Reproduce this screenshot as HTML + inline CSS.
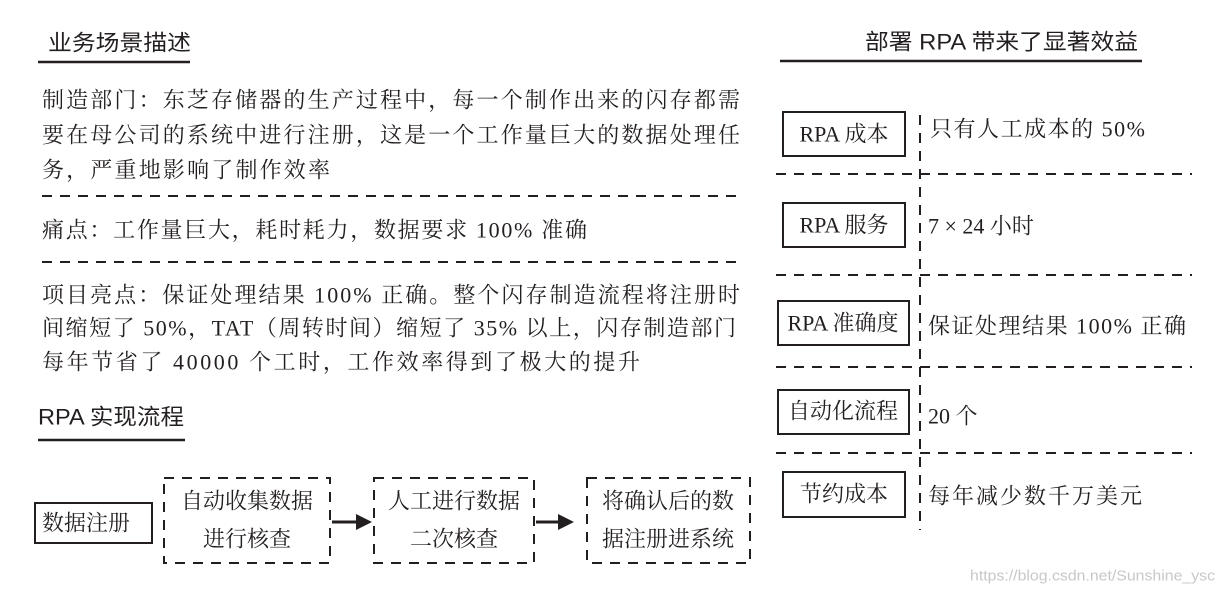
<!DOCTYPE html>
<html><head><meta charset="utf-8"><style>
html,body{margin:0;padding:0;background:#fff;}
svg{display:block}
.s{font-family:"Liberation Serif","Noto Serif CJK SC",serif;font-size:22px;fill:#231f20;}
.h{font-family:"Liberation Sans","Noto Sans CJK SC",sans-serif;font-size:22px;fill:#231f20;}
</style></head><body>
<svg width="1225" height="594" viewBox="0 0 1225 594" xmlns="http://www.w3.org/2000/svg">
<g stroke="#231f20" fill="none">
<line x1="38" y1="62" x2="190" y2="62" stroke-width="2.5"/>
<line x1="780" y1="61" x2="1142" y2="61" stroke-width="2.5"/>
<line x1="38" y1="440" x2="185" y2="440" stroke-width="2.5"/>
<g stroke-width="2" stroke-dasharray="10,8">
<line x1="42" y1="196" x2="740" y2="196"/>
<line x1="42" y1="262" x2="740" y2="262"/>
<line x1="776" y1="174" x2="1192" y2="174"/>
<line x1="776" y1="275" x2="1192" y2="275"/>
<line x1="776" y1="367" x2="1192" y2="367"/>
<line x1="776" y1="453" x2="1192" y2="453"/>
<line x1="920" y1="115" x2="920" y2="530"/>
<rect x="164" y="478" width="166" height="85"/>
<rect x="374" y="478" width="160" height="85"/>
<rect x="587" y="478" width="163" height="85"/>
</g>
<g stroke-width="2">
<rect x="35" y="503" width="117" height="40"/>
<rect x="783" y="112" width="122" height="44"/>
<rect x="783" y="203" width="122" height="44"/>
<rect x="778" y="301" width="131" height="44"/>
<rect x="778" y="390" width="131" height="44"/>
<rect x="783" y="472" width="122" height="45"/>
</g>
<line x1="332" y1="522" x2="358" y2="522" stroke-width="3"/>
<line x1="536" y1="522" x2="560" y2="522" stroke-width="3"/>
</g>
<polygon points="356,514 372,522 356,530" fill="#231f20"/>
<polygon points="558,514 574,522 558,530" fill="#231f20"/>
<g dominant-baseline="central">
<text class="h" x="48" y="43" textLength="143" lengthAdjust="spacingAndGlyphs">业务场景描述</text>
<text class="h" x="865" y="42" textLength="273" lengthAdjust="spacingAndGlyphs">部署 RPA 带来了显著效益</text>
<text class="h" x="38" y="417" textLength="146" lengthAdjust="spacingAndGlyphs">RPA 实现流程</text>
<text class="s" x="42" y="100" textLength="698" lengthAdjust="spacing">制造部门：东芝存储器的生产过程中，每一个制作出来的闪存都需</text>
<text class="s" x="42" y="135" textLength="698" lengthAdjust="spacing">要在母公司的系统中进行注册，这是一个工作量巨大的数据处理任</text>
<text class="s" x="42" y="170" textLength="288" lengthAdjust="spacing">务，严重地影响了制作效率</text>
<text class="s" x="42" y="230" textLength="545" lengthAdjust="spacing">痛点：工作量巨大，耗时耗力，数据要求 100% 准确</text>
<text class="s" x="42" y="295" textLength="698" lengthAdjust="spacing">项目亮点：保证处理结果 100% 正确。整个闪存制造流程将注册时</text>
<text class="s" x="42" y="328" textLength="694" lengthAdjust="spacing">间缩短了 50%，TAT（周转时间）缩短了 35% 以上，闪存制造部门</text>
<text class="s" x="42" y="362" textLength="598" lengthAdjust="spacing">每年节省了 40000 个工时，工作效率得到了极大的提升</text>
<text class="s" x="42" y="523">数据注册</text>
<text class="s" x="247" y="501" text-anchor="middle">自动收集数据</text>
<text class="s" x="247" y="539" text-anchor="middle">进行核查</text>
<text class="s" x="454" y="501" text-anchor="middle">人工进行数据</text>
<text class="s" x="454" y="539" text-anchor="middle">二次核查</text>
<text class="s" x="668" y="501" text-anchor="middle">将确认后的数</text>
<text class="s" x="668" y="539" text-anchor="middle">据注册进系统</text>
<text class="s" x="844" y="134" text-anchor="middle">RPA 成本</text>
<text class="s" x="844" y="225" text-anchor="middle">RPA 服务</text>
<text class="s" x="843" y="323" text-anchor="middle">RPA 准确度</text>
<text class="s" x="843" y="411" text-anchor="middle">自动化流程</text>
<text class="s" x="844" y="494" text-anchor="middle">节约成本</text>
<text class="s" x="930" y="129" textLength="215" lengthAdjust="spacing">只有人工成本的 50%</text>
<text class="s" x="928" y="226">7 × 24 小时</text>
<text class="s" x="928" y="326" textLength="258" lengthAdjust="spacing">保证处理结果 100% 正确</text>
<text class="s" x="928" y="416">20 个</text>
<text class="s" x="928" y="496" textLength="214" lengthAdjust="spacing">每年减少数千万美元</text>
<text x="970" y="576" font-family="Liberation Sans, sans-serif" font-size="15" fill="#c8c8c8" textLength="245" lengthAdjust="spacingAndGlyphs">https://blog.csdn.net/Sunshine_ysc</text>
</g>
</svg>
</body></html>
